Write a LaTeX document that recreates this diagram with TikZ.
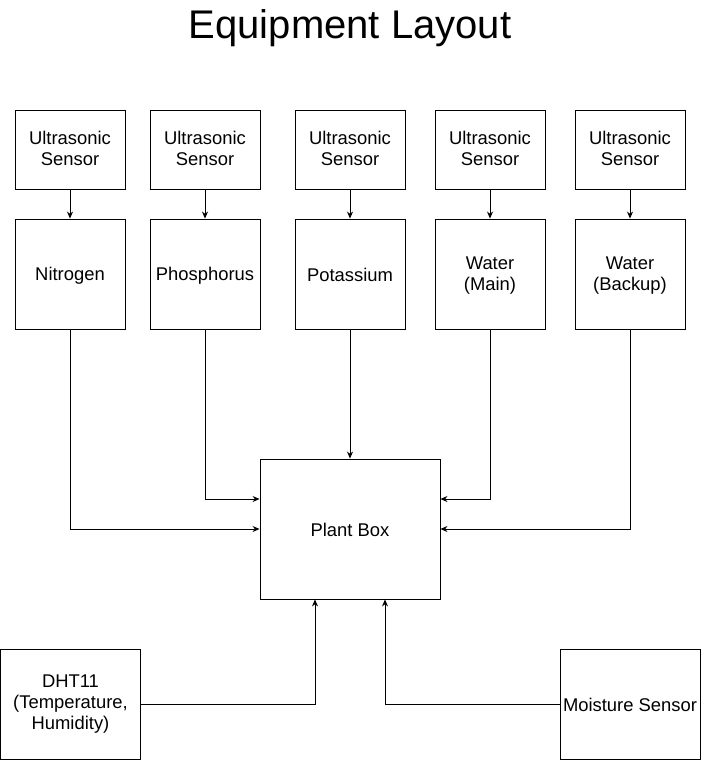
\documentclass[tikz,border=0pt]{standalone}
\usepackage{fontspec}
\setmainfont{Liberation Sans}
\usepackage{tikz}
\usetikzlibrary{positioning,arrows.meta}

\begin{document}
\begin{tikzpicture}[x=1pt, y=-1pt, line width=0.9pt,
    every node/.style={font=\fontsize{18.4}{21}\selectfont, align=center,
      execute at begin node=\rule{0pt}{16pt}, execute at end node=\rule[-2pt]{0pt}{2pt}},
    sensorbox/.style={draw, minimum width=110pt, minimum height=79pt, inner sep=0pt},
    tankbox/.style={draw, minimum width=110pt, minimum height=110pt, inner sep=0pt},
    sidebox/.style={draw, minimum width=140pt, minimum height=110pt, inner sep=0pt},
    feed/.style={-{Stealth[length=7pt, width=6pt]}}]
  \useasboundingbox (0,0) rectangle (701,760);
  % --- title ---
  \node[font=\fontsize{40}{44}\selectfont, execute at begin node={}, execute at end node={}]
    (title) at (350,28) {Equipment Layout};

  % --- ultrasonic sensors ---
  \node[sensorbox] (usN) at (70,149.5) {Ultrasonic\\Sensor};
  \node[sensorbox] (usP) at (205,149.5) {Ultrasonic\\Sensor};
  \node[sensorbox] (usK) at (350,149.5) {Ultrasonic\\Sensor};
  \node[sensorbox] (usWm) at (490,149.5) {Ultrasonic\\Sensor};
  \node[sensorbox] (usWb) at (630,149.5) {Ultrasonic\\Sensor};

  % --- tanks ---
  \node[tankbox] (nitrogen) at (70,274) {Nitrogen};
  \node[tankbox] (phosphorus) at (205,274) {Phosphorus};
  \node[tankbox] (potassium) at (350,274) {Potassium};
  \node[tankbox, text depth=0pt] (watermain) at (490,274) {Water\\(Main)};
  \node[tankbox, text depth=0pt] (waterbackup) at (630,274) {Water\\(Backup)};

  % --- plant box and bottom sensors ---
  \node[draw, minimum width=180pt, minimum height=140pt, inner sep=0pt] (plant) at (350,529) {Plant Box};
  \node[sidebox] (dht) at (70.5,704) {DHT11\\(Temperature,\\Humidity)};
  \node[sidebox] (moisture) at (630,704) {Moisture Sensor};

  % sensors into tanks
  \draw[feed] (usN) -- (nitrogen);
  \draw[feed] (usP) -- (phosphorus);
  \draw[feed] (usK) -- (potassium);
  \draw[feed] (usWm) -- (watermain);
  \draw[feed] (usWb) -- (waterbackup);

  % tanks into plant box
  \draw[feed] (nitrogen.south) |- (plant.west);
  \draw[feed] (phosphorus.south) |- ([yshift=30pt]plant.west);
  \draw[feed] (potassium.south) -- (plant.north);
  \draw[feed] (watermain.south) |- ([yshift=30pt]plant.east);
  \draw[feed] (waterbackup.south) |- (plant.east);

  % bottom sensors
  \draw[feed] (dht.east) -| ([xshift=-35pt]plant.south);
  \draw[feed] (moisture.west) -| ([xshift=35pt]plant.south);
\end{tikzpicture}
\end{document}
